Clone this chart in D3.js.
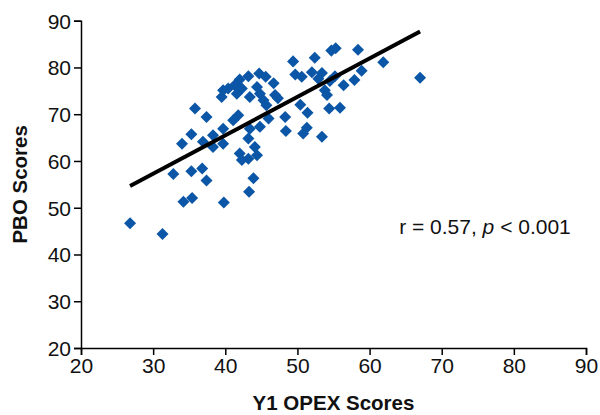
<!DOCTYPE html>
<html>
<head>
<meta charset="utf-8">
<script src="https://cdn.jsdelivr.net/npm/d3@7"></script>
<style>
  body { margin: 0; background: #fff; }
  svg { display: block; font-family: "Liberation Sans", Arial, sans-serif; }
</style>
</head>
<body>
<svg id="svg" width="600" height="415"></svg>
<script>
// data
var opex = [26.8, 31.3, 32.8, 34.0, 34.2, 35.4, 35.3, 35.3, 35.8, 36.9,
  36.8, 37.4, 37.4, 38.3, 38.3, 39.7, 39.7, 39.8, 39.5, 39.7,
  40.4, 41.3, 42.3, 42.0, 43.2, 44.7, 45.6, 46.7, 43.4, 44.8,
  45.3, 46.9, 41.8, 41.1, 44.8, 43.4, 41.6, 44.4, 45.7, 47.3,
  43.2, 44.1, 42.0, 43.2, 44.4, 42.3, 43.9, 43.3, 46.0, 49.4,
  52.4, 49.7, 50.6, 52.0, 53.4, 52.9, 54.7, 55.3, 58.4, 61.9,
  67.0, 55.2, 54.5, 58.9, 57.9, 56.4, 53.8, 54.1, 50.4, 51.4,
  54.4, 55.9, 48.3, 48.4, 51.3, 50.8, 53.4];
var pbo = [46.7, 44.4, 57.2, 63.7, 51.3, 52.1, 57.8, 65.7, 71.2, 64.1,
  58.4, 55.8, 69.4, 65.5, 63.0, 63.7, 66.9, 51.1, 73.7, 75.1,
  75.5, 76.2, 75.5, 77.4, 78.1, 78.7, 78.0, 76.6, 73.7, 74.4,
  73.0, 74.1, 69.8, 68.7, 67.3, 66.9, 74.4, 75.8, 71.9, 73.4,
  64.8, 63.0, 61.6, 60.5, 61.2, 60.2, 56.3, 53.4, 69.1, 81.3,
  82.1, 78.5, 78.0, 79.0, 78.8, 77.6, 83.6, 84.1, 83.8, 81.1,
  77.8, 78.1, 77.1, 79.3, 77.3, 76.2, 75.1, 74.1, 72.0, 70.3,
  71.2, 71.4, 69.4, 66.4, 67.1, 65.9, 65.2];

var xTicks = [20, 30, 40, 50, 60, 70, 80, 90];
var yTicks = [20, 30, 40, 50, 60, 70, 80, 90];

// fitted line y = a + b*x
var fitIntercept = 32.6;
var fitSlope = 0.822;

var statR = "0.57";
var statP = "0.001";

var svg = d3.select("#svg");

var x = d3.scaleLinear().domain([20, 90]).range([81, 586]);
var y = d3.scaleLinear().domain([20, 90]).range([348, 20.7]);

var blue = "#0b56a6";

// axes
var xAxis = svg.append("g")
  .attr("transform", "translate(0," + y(20) + ")")
  .call(d3.axisBottom(x).tickValues(xTicks).tickSize(7).tickPadding(2).tickFormat(d3.format("d")));
var yAxis = svg.append("g")
  .attr("transform", "translate(" + x(20) + ",0)")
  .call(d3.axisLeft(y).tickValues(yTicks).tickSize(7).tickPadding(3).tickFormat(d3.format("d")));

[xAxis, yAxis].forEach(function(g) {
  g.select(".domain").attr("stroke", "#000").attr("stroke-width", 1.5);
  g.selectAll(".tick line").attr("stroke", "#000").attr("stroke-width", 1.5);
  g.selectAll(".tick text")
    .attr("fill", "#111")
    .style("font-size", "21px")
    .style("font-family", "Liberation Sans, Arial, sans-serif");
});
xAxis.selectAll(".tick text").attr("dy", "0.78em");
yAxis.selectAll(".tick text").attr("dy", "0.35em");

// points
svg.append("g").selectAll("path")
  .data(opex.map(function(d, i) { return [d, pbo[i]]; }))
  .enter()
  .append("path")
  .attr("d", d3.symbol().type(d3.symbolDiamond2).size(92))
  .attr("transform", function(d) { return "translate(" + x(d[0]) + "," + y(d[1]) + ")"; })
  .attr("fill", blue);

// regression line
var xMin = d3.min(opex), xMax = d3.max(opex);
svg.append("line")
  .attr("x1", x(xMin)).attr("y1", y(fitIntercept + fitSlope * xMin))
  .attr("x2", x(xMax)).attr("y2", y(fitIntercept + fitSlope * xMax))
  .attr("stroke", "#000")
  .attr("stroke-width", 4);

// annotation
var note = svg.append("text")
  .attr("x", x(64.1))
  .attr("y", y(45.8) + 7)
  .style("font-size", "21px")
  .attr("fill", "#111");
note.append("tspan").text("r = " + statR + ", ");
note.append("tspan").style("font-style", "italic").text("p");
note.append("tspan").text(" < " + statP);

// axis titles
svg.append("text")
  .attr("x", (x(20) + x(90)) / 2)
  .attr("y", 410)
  .attr("text-anchor", "middle")
  .style("font-size", "20.5px")
  .style("font-weight", "bold")
  .attr("fill", "#111")
  .text("Y1 OPEX Scores");

svg.append("text")
  .attr("transform", "translate(27," + ((y(20) + y(90)) / 2) + ") rotate(-90)")
  .attr("text-anchor", "middle")
  .style("font-size", "20.5px")
  .style("font-weight", "bold")
  .attr("fill", "#111")
  .text("PBO Scores");
</script>
</body>
</html>
